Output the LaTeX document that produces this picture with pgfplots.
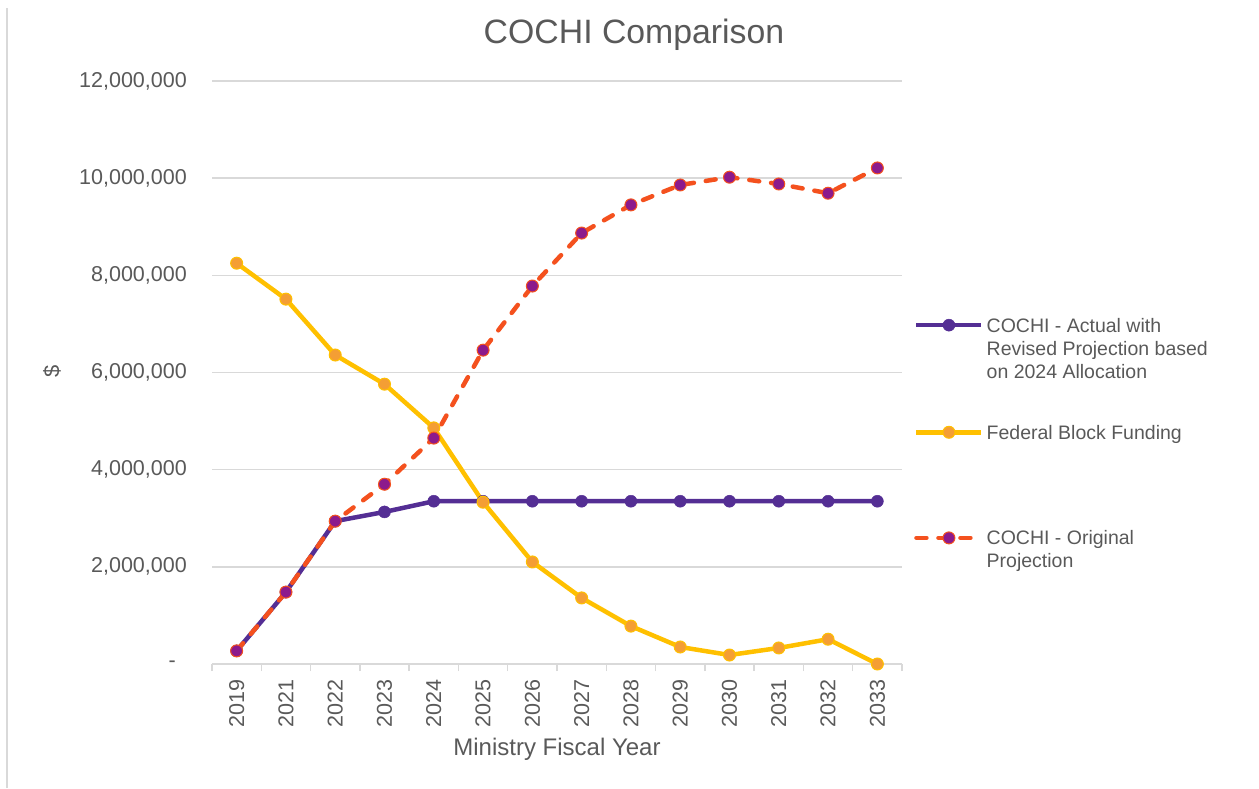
\documentclass[border=0pt]{standalone}
\usepackage{pgfplots}
\pgfplotsset{compat=1.18}
\usepackage{fontspec}
\setmainfont{Liberation Sans}
\definecolor{txt}{HTML}{595959}
\definecolor{gridc}{HTML}{D9D9D9}
\definecolor{cpurple}{RGB}{84,46,148}
\definecolor{cyellow}{RGB}{255,192,0}
\definecolor{corange}{RGB}{244,158,52}
\definecolor{cred}{RGB}{244,81,30}
\definecolor{cmag}{RGB}{140,26,140}

\begin{document}
\begin{tikzpicture}[x=1pt,y=1pt]
\useasboundingbox (0,0) rectangle (1259,788);
\draw[gridc, line width=1.5pt] (7,0) -- (7,780);
\begin{axis}[
  at={(212pt,124pt)}, anchor=south west,
  scale only axis, width=690pt, height=583pt,
  xmin=-0.5, xmax=13.5, ymin=0, ymax=12000000,
  clip=false,
  axis x line*=bottom, axis y line*=left,
  y axis line style={draw=none},
  x axis line style={gridc, line width=1.5pt, -},
  xtick={0,1,2,3,4,5,6,7,8,9,10,11,12,13},
  xticklabels={2019,2021,2022,2023,2024,2025,2026,2027,2028,2029,2030,2031,2032,2033},
  major tick length=0pt,
  minor xtick={-0.5,0.5,1.5,2.5,3.5,4.5,5.5,6.5,7.5,8.5,9.5,10.5,11.5,12.5,13.5},
  minor x tick style={gridc, line width=1.5pt},
  minor tick length=7pt,
  tick align=outside,
  ytick={0,2000000,4000000,6000000,8000000,10000000,12000000},
  yticklabels={{-\kern11pt},{2,000,000},{4,000,000},{6,000,000},{8,000,000},{10,000,000},{12,000,000}},
  scaled y ticks=false,
  major y tick style={draw=none},
  ymajorgrids, major grid style={gridc, line width=1.5pt},
  xticklabel style={rotate=90, anchor=east, inner sep=0pt, text=txt, font=\fontsize{21.5}{25}\selectfont},
  xticklabel shift=15pt,
  yticklabel style={anchor=east, inner sep=0pt, text=txt, font=\fontsize{21.5}{25}\selectfont},
  yticklabel shift=25pt,
  xlabel={Ministry Fiscal Year},
  xlabel style={at={(axis description cs:0.5,-0.1561)}, anchor=base, inner sep=0pt, text=txt, font=\fontsize{24}{28}\selectfont},
  ylabel={\$},
  ylabel style={at={(axis description cs:-0.2319,0.5017)}, anchor=center, inner sep=0pt, text=txt, font=\fontsize{22}{26}\selectfont},
  title={COCHI Comparison},
  title style={at={(axis description cs:0.6116,1.0643)}, anchor=base, yshift=-6pt, inner sep=0pt, text=txt, font=\fontsize{33.8}{40}\selectfont},
  legend image code/.code={\draw[mark repeat=2, mark phase=2, #1] plot coordinates {(0pt,7pt) (32.5pt,7pt) (65pt,7pt)};},
  legend style={at={(axis description cs:1.0174,0.5938)}, anchor=north west, draw=none, fill=none,
    inner sep=0pt, row sep=0pt, column sep=3pt,
    cells={anchor=base west},
    nodes={inner sep=0pt, text depth={}, text=txt, font=\fontsize{19.5}{23}\selectfont}},
]
\addplot[cpurple, line width=4.5pt, mark=*, mark size=6pt, mark options={solid, fill=cpurple, draw=cpurple, line width=0.5pt}]
coordinates {(0,270000) (1,1480000) (2,2940000) (3,3130000) (4,3350000) (5,3350000) (6,3350000) (7,3350000) (8,3350000) (9,3350000) (10,3350000) (11,3350000) (12,3350000) (13,3350000)};
\addlegendentry{\parbox[t]{9cm}{COCHI - Actual with\\Revised Projection based\\on 2024 Allocation\rule[-47pt]{0pt}{0pt}}}
\addplot[cyellow, line width=4.5pt, mark=*, mark size=6pt, mark options={solid, fill=corange, draw=cyellow, line width=1pt}]
coordinates {(0,8250000) (1,7510000) (2,6360000) (3,5760000) (4,4860000) (5,3330000) (6,2100000) (7,1360000) (8,780000) (9,350000) (10,185000) (11,330000) (12,510000) (13,0)};
\addlegendentry{Federal Block Funding\rule[-91.5pt]{0pt}{0pt}}
\addplot[cred, line width=4.5pt, dash pattern=on 10pt off 12pt, line cap=round, mark=*, mark size=6pt, mark options={solid, fill=cmag, draw=cred, line width=1pt}]
coordinates {(0,270000) (1,1480000) (2,2940000) (3,3700000) (4,4650000) (5,6460000) (6,7780000) (7,8870000) (8,9450000) (9,9860000) (10,10020000) (11,9880000) (12,9690000) (13,10210000)};
\addlegendentry{\parbox[t]{9cm}{COCHI - Original\\Projection}}
\end{axis}
\end{tikzpicture}
\end{document}
